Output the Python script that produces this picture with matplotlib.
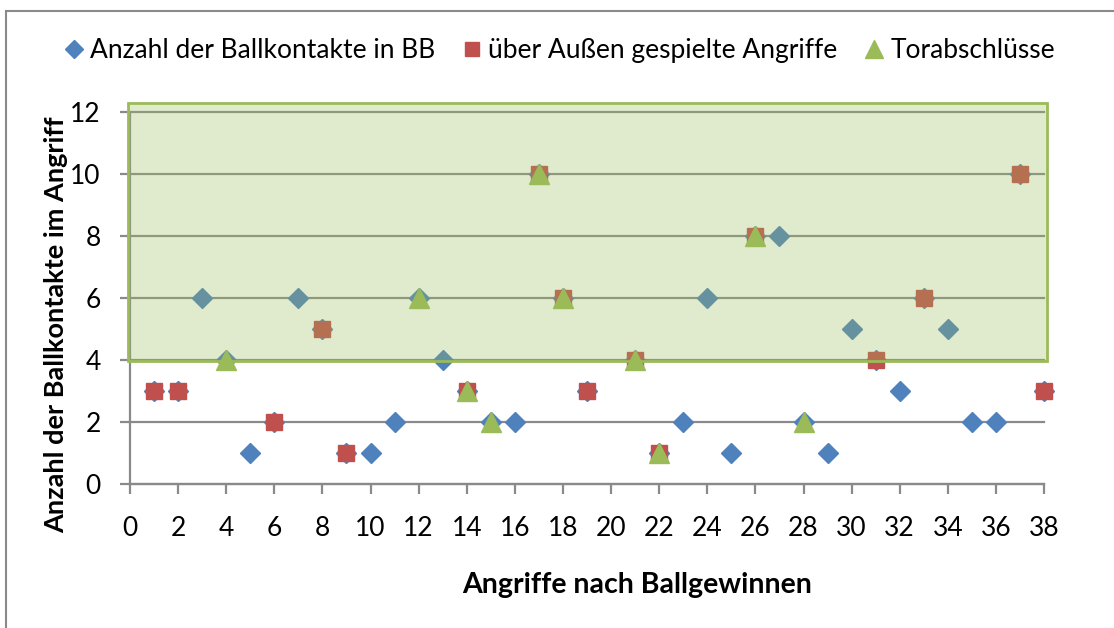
import matplotlib.pyplot as plt
from matplotlib.patches import Rectangle
from matplotlib.lines import Line2D

plt.rcParams['font.family'] = ['Lato', 'DejaVu Sans']

# Anzahl der Ballkontakte in BB (Angriff 20 fehlt)
x_blau = [1, 2, 3, 4, 5, 6, 7, 8, 9, 10, 11, 12, 13, 14, 15, 16, 17, 18, 19,
          21, 22, 23, 24, 25, 26, 27, 28, 29, 30, 31, 32, 33, 34, 35, 36, 37, 38]
y_blau = [3, 3, 6, 4, 1, 2, 6, 5, 1, 1, 2, 6, 4, 3, 2, 2, 10, 6, 3,
          4, 1, 2, 6, 1, 8, 8, 2, 1, 5, 4, 3, 6, 5, 2, 2, 10, 3]

# über Außen gespielte Angriffe
x_rot = [1, 2, 6, 8, 9, 14, 17, 18, 19, 21, 22, 26, 31, 33, 37, 38]
y_rot = [3, 3, 2, 5, 1, 3, 10, 6, 3, 4, 1, 8, 4, 6, 10, 3]

# Torabschlüsse
x_gruen = [4, 12, 14, 15, 17, 18, 21, 22, 26, 28]
y_gruen = [4, 6, 3, 2, 10, 6, 4, 1, 8, 2]

blau = '#4f81bd'
rot = '#c0504d'
gruen = '#9bbb59'

fig = plt.figure(figsize=(11.14, 6.28), dpi=100)
ax = fig.add_axes([0.1167, 0.2293, 0.8205, 0.5924])

ax.plot(x_blau, y_blau, linestyle='none', marker='D', markersize=10,
        color=blau, clip_on=False, zorder=3)
ax.plot(x_rot, y_rot, linestyle='none', marker='s', markersize=11.5,
        color=rot, clip_on=False, zorder=4)
ax.plot(x_gruen, y_gruen, linestyle='none', marker='^', markersize=15,
        color=gruen, clip_on=False, zorder=5)

# grüner Bereich (halbtransparent über den Punkten)
ax.add_patch(Rectangle((-0.08, 3.97), 38.2, 8.32, facecolor=gruen, alpha=0.3,
                       edgecolor='none', zorder=6, clip_on=False))
ax.add_patch(Rectangle((-0.08, 3.97), 38.2, 8.32, facecolor='none',
                       edgecolor=gruen, linewidth=2, zorder=7, clip_on=False))

ax.set_xlim(0, 38)
ax.set_ylim(0, 12)
ax.set_xticks(range(0, 39, 2))
ax.set_yticks(range(0, 13, 2))
ax.grid(axis='y', color='#8a8a8a', linewidth=1.6, zorder=1)
ax.set_axisbelow(True)
for linie in ax.get_ygridlines():
    linie.set_clip_on(False)
for s in ['top', 'right']:
    ax.spines[s].set_visible(False)
for s in ['left', 'bottom']:
    ax.spines[s].set_color('#8a8a8a')
    ax.spines[s].set_linewidth(1.6)
ax.tick_params(colors='#8a8a8a', labelcolor='black', labelsize=19, length=7, width=1.6)
ax.tick_params(axis='x', pad=16)
ax.tick_params(axis='y', pad=14)

# Achsentitel (im Original nicht mittig zur Achse)
fig.text(637 / 1114, 1 - 585 / 628, 'Angriffe nach Ballgewinnen', fontsize=20.5,
         fontweight='bold', ha='center', va='center')
fig.text(56 / 1114, 1 - 325 / 628, 'Anzahl der Ballkontakte im Angriff', fontsize=19.5,
         fontweight='bold', ha='center', va='center', rotation=90)

handles = [
    Line2D([], [], linestyle='none', marker='D', markersize=9, color=blau),
    Line2D([], [], linestyle='none', marker='s', markersize=10.5, color=rot),
    Line2D([], [], linestyle='none', marker='^', markersize=12.5, color=gruen),
]
labels = ['Anzahl der Ballkontakte in BB', 'über Außen gespielte Angriffe', 'Torabschlüsse']
fig.legend(handles, labels, loc='center', bbox_to_anchor=(0.502, 0.920), ncol=3,
           frameon=False, fontsize=19, handletextpad=0.2, columnspacing=1.0,
           handlelength=0.8)

# äußerer Rahmen
fig.add_artist(Rectangle((6 / 1114, -0.01), 1.01, (628 - 11) / 628 + 0.01,
                         transform=fig.transFigure, facecolor='none',
                         edgecolor='#8a8a8a', linewidth=1.5))

fig.savefig('out.png', dpi=100)
